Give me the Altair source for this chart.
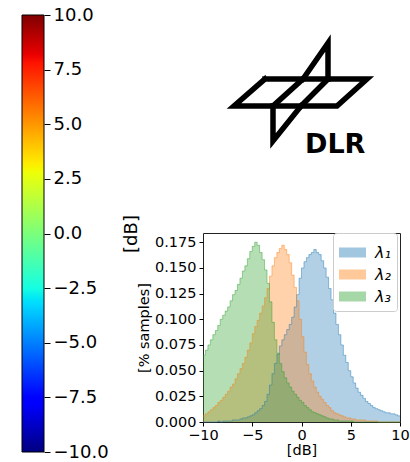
import altair as alt
import pandas as pd

# ---------------- data ----------------
bin_start = -10.0
bin_width = 0.25
series_names = ["λ₁", "λ₂", "λ₃"]
series_colors = ["#1f77b4", "#ff7f0e", "#2ca02c"]

lambda1 = [0.000, 0.000, 0.000, 0.000, 0.000, 0.000, 0.001, 0.000, 0.001, 0.001,
           0.001, 0.001, 0.002, 0.002, 0.002, 0.003, 0.004, 0.004, 0.005, 0.006,
           0.007, 0.009, 0.011, 0.013, 0.016, 0.020, 0.027, 0.036, 0.047, 0.057,
           0.066, 0.074, 0.080, 0.085, 0.090, 0.095, 0.102, 0.112, 0.124, 0.140,
           0.150, 0.156, 0.160, 0.163, 0.165, 0.168, 0.165, 0.163, 0.157, 0.150,
           0.141, 0.130, 0.119, 0.106, 0.095, 0.085, 0.075, 0.065, 0.058, 0.050,
           0.044, 0.038, 0.033, 0.029, 0.026, 0.023, 0.020, 0.018, 0.016, 0.014,
           0.013, 0.012, 0.011, 0.010, 0.009, 0.009, 0.008, 0.008, 0.007, 0.006]

lambda2 = [0.006, 0.008, 0.010, 0.012, 0.014, 0.016, 0.019, 0.021, 0.024, 0.027,
           0.030, 0.034, 0.037, 0.042, 0.047, 0.052, 0.057, 0.063, 0.070, 0.077,
           0.086, 0.093, 0.099, 0.106, 0.113, 0.121, 0.130, 0.142, 0.152, 0.160,
           0.165, 0.169, 0.172, 0.168, 0.163, 0.155, 0.143, 0.131, 0.118, 0.100,
           0.083, 0.068, 0.056, 0.047, 0.040, 0.034, 0.029, 0.025, 0.022, 0.019,
           0.016, 0.014, 0.011, 0.009, 0.008, 0.007, 0.006, 0.005, 0.004, 0.004,
           0.003, 0.003, 0.002, 0.002, 0.002, 0.002, 0.001, 0.001, 0.001, 0.001,
           0.001, 0.000, 0.000, 0.000, 0.000, 0.000, 0.000, 0.000, 0.000, 0.000]

lambda3 = [0.065, 0.070, 0.075, 0.080, 0.085, 0.089, 0.094, 0.100, 0.104, 0.108,
           0.112, 0.118, 0.124, 0.128, 0.134, 0.140, 0.147, 0.152, 0.159, 0.166,
           0.171, 0.175, 0.172, 0.165, 0.158, 0.148, 0.135, 0.117, 0.097, 0.080,
           0.067, 0.057, 0.049, 0.043, 0.038, 0.034, 0.030, 0.027, 0.024, 0.021,
           0.019, 0.016, 0.014, 0.012, 0.010, 0.009, 0.008, 0.007, 0.006, 0.005,
           0.004, 0.003, 0.003, 0.002, 0.002, 0.001, 0.001, 0.001, 0.001, 0.001,
           0.001, 0.000, 0.000, 0.000, 0.000, 0.000, 0.000, 0.000, 0.000, 0.000,
           0.000, 0.000, 0.000, 0.000, 0.000, 0.000, 0.000, 0.000, 0.000, 0.000]

x_ticks = [-10, -5, 0, 5, 10]
y_ticks = [0.0, 0.025, 0.05, 0.075, 0.1, 0.125, 0.15, 0.175]
cbar_ticks = [-10.0, -7.5, -5.0, -2.5, 0.0, 2.5, 5.0, 7.5, 10.0]
cbar_range = [-10.0, 10.0]

# jet colormap stops (offset, colour)
jet_stops = [(0.0, "#000080"), (0.11, "#0000ff"), (0.125, "#0000ff"), (0.34, "#00dbff"),
             (0.35, "#00e5f7"), (0.375, "#15ffe2"), (0.64, "#eeff08"), (0.65, "#f7f500"),
             (0.66, "#ffec00"), (0.89, "#ff1300"), (0.91, "#e80000"), (1.0, "#800000")]

# DLR logo strokes (page pixel coordinates)
logo_strokes = {
    "wing": [(265, 79), (367, 79), (337, 106), (234, 106), (265, 79)],
    "div1": [(303, 79), (273, 106)],
    "div2": [(328, 79), (301, 106)],
    "upper": [(303, 79), (328, 43), (328, 79)],
    "lower": [(301, 106), (273, 141), (273, 106)],
}
logo_text = "DLR"
logo_text_pos = (305, 153)

FONT = "DejaVu Sans"
TICK_FS = 14.5

# ---------------- histogram ----------------
rows = []
for name, vals in zip(series_names, [lambda1, lambda2, lambda3]):
    for i, v in enumerate(vals):
        rows.append({"db": bin_start + i * bin_width, "val": v, "series": name})
    rows.append({"db": bin_start + len(vals) * bin_width, "val": vals[-1], "series": name})
hist_df = pd.DataFrame(rows)

minus_expr = "replace(format(datum.value, '{fmt}'), '-', '\u2212')"

x_enc = alt.X("db:Q", scale=alt.Scale(domain=[-10, 10], nice=False, zero=False),
              axis=alt.Axis(values=x_ticks, labelExpr=minus_expr.format(fmt="d"), title="[dB]",
                            labelFlush=False, labelOverlap=False, grid=False, domain=False,
                            tickSize=4, labelPadding=2, labelFontSize=TICK_FS,
                            titleFontSize=TICK_FS, titlePadding=2, titleFontWeight="normal",
                            labelColor="black", titleColor="black", tickColor="black",
                            labelFont=FONT, titleFont=FONT))
y_enc = alt.Y("val:Q", stack=False, scale=alt.Scale(domain=[0, 0.184], nice=False),
              axis=alt.Axis(values=y_ticks, labelExpr="format(datum.value, '.3f')",
                            title="[% samples]", grid=False,
                            labelOverlap=False, labelBound=False, domain=False, tickSize=4,
                            labelPadding=3, labelFontSize=TICK_FS, titleFontSize=TICK_FS,
                            titlePadding=3, titleFontWeight="normal", labelColor="black",
                            titleColor="black", tickColor="black", labelFont=FONT,
                            titleFont=FONT))

area = alt.Chart(hist_df).mark_area(interpolate="step-after", fillOpacity=0.35).encode(
    x=x_enc, y=y_enc,
    color=alt.Color("series:N", scale=alt.Scale(domain=series_names, range=series_colors),
                    legend=alt.Legend(title=None, orient="none", legendX=311, legendY=218,
                                      padding=6, strokeColor="#cccccc", cornerRadius=3,
                                      fillColor="white", labelFontSize=16, labelFont=FONT,
                                      labelFontStyle="italic",
                                      labelColor="black", symbolType="M-1,-0.37H1V0.37H-1Z",
                                      symbolSize=729, symbolOpacity=0.42, symbolStrokeWidth=0,
                                      labelOffset=9, rowPadding=0)),
)
edge = alt.Chart(hist_df).mark_line(interpolate="step-after", strokeWidth=1, opacity=0.45).encode(
    x=x_enc, y=y_enc,
    stroke=alt.Stroke("series:N", scale=alt.Scale(domain=series_names, range=series_colors),
                      legend=None),
)
hist = alt.layer(area, edge).properties(
    width=197, height=189,
    view=alt.ViewBackground(stroke="#222222", strokeWidth=1, strokeOpacity=1),
)

# ---------------- colorbar ----------------
cbar_df = pd.DataFrame({"lo": [cbar_range[0]], "hi": [cbar_range[1]]})
gradient = alt.LinearGradient(
    gradient="linear",
    stops=[alt.GradientStop(offset=o, color=c) for o, c in jet_stops],
    x1=0, x2=0, y1=1, y2=0,
)
cbar = alt.Chart(cbar_df).mark_rect(fill=gradient, stroke="black", strokeWidth=1).encode(
    x=alt.value(0), x2=alt.value(22),
    y=alt.Y("lo:Q", scale=alt.Scale(domain=cbar_range, nice=False, zero=False),
            axis=alt.Axis(orient="right", values=cbar_ticks, labelExpr=minus_expr.format(fmt=".1f"),
                          grid=False, domain=False, tickSize=6, tickColor="black",
                          labelOverlap=False,
                          labelPadding=3, labelFontSize=18, labelFont=FONT, labelColor="black",
                          title="[dB]", titleFontSize=18, titleFont=FONT, titleColor="black",
                          titleFontWeight="normal", titleAngle=270, titleX=87, titleY=218.5,
                          titleAlign="center", titleBaseline="middle")),
    y2="hi:Q",
).properties(width=22, height=437)

# ---------------- logo ----------------
lrows = []
for key, pts in logo_strokes.items():
    for k, (px, py) in enumerate(pts):
        lrows.append({"stroke": key, "k": k, "px": px, "py": py})
logo_df = pd.DataFrame(lrows)
lx = alt.X("px:Q", scale=alt.Scale(domain=[203, 400], nice=False, zero=False), axis=None)
ly = alt.Y("py:Q", scale=alt.Scale(domain=[15, 215], nice=False, zero=False, reverse=True), axis=None)
logo_lines = alt.Chart(logo_df).mark_line(color="black", strokeWidth=5.5, strokeJoin="miter",
                                          strokeCap="square").encode(
    x=lx, y=ly, detail="stroke:N", order="k:Q")
logo_txt = alt.Chart(pd.DataFrame({"px": [logo_text_pos[0]], "py": [logo_text_pos[1]],
                                   "t": [logo_text]})).mark_text(
    align="left", baseline="alphabetic", fontSize=27, fontWeight="bold", font=FONT,
    color="black").encode(x=lx, y=ly, text="t:N")
logo = alt.layer(logo_lines, logo_txt).properties(width=197, height=200)

right = alt.vconcat(logo, hist, spacing=18, bounds="flush")
chart = alt.hconcat(cbar, right, spacing=159, bounds="flush").properties(
    autosize=alt.AutoSizeParams(type="none"),
    padding={"left": 22, "top": 15, "right": 388, "bottom": 447},
    background="white",
).configure_view(strokeOpacity=0).configure_axis(labelOverlap=False)

chart.save("out.html", embed_options={"renderer": "svg", "actions": False})
